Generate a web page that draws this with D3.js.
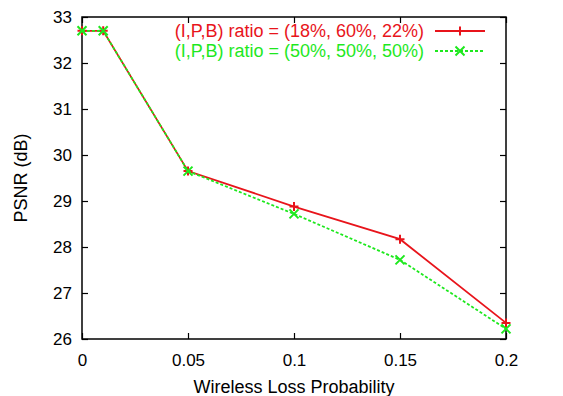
<!DOCTYPE html>
<html>
<head>
<meta charset="utf-8">
<script src="https://cdn.jsdelivr.net/npm/d3@7"></script>
<style>
  body { margin: 0; background: #fff; }
  text { font-family: "Liberation Sans", Arial, sans-serif; }
</style>
</head>
<body>
<svg width="563" height="396"></svg>
<script>
// data
let lossProb = [0, 0.01, 0.05, 0.1, 0.15, 0.2];
let psnrA = [32.70, 32.70, 29.65, 28.88, 28.17, 26.35];   // (18%, 60%, 22%)
let psnrB = [32.70, 32.70, 29.65, 28.72, 27.72, 26.22];   // (50%, 50%, 50%)
let xTicks = [0, 0.05, 0.1, 0.15, 0.2];
let yTicks = [26, 27, 28, 29, 30, 31, 32, 33];
let seriesNames = ["(I,P,B) ratio = (18%, 60%, 22%)", "(I,P,B) ratio = (50%, 50%, 50%)"];

let svg = d3.select("svg"),
    width = +svg.attr("width"),
    height = +svg.attr("height");

let margin = {left: 82, right: 57, top: 17, bottom: 57};

let x = d3.scaleLinear().domain([0, 0.2]).range([margin.left, width - margin.right]);
let y = d3.scaleLinear().domain([26, 33]).range([height - margin.bottom, margin.top]);

let series = [
    {name: seriesNames[0], values: psnrA, color: "#e8141b", dash: null, marker: "plus"},
    {name: seriesNames[1], values: psnrB, color: "#1ee81e", dash: "3,2", marker: "cross"}
];

let tickLen = 6;

// ticks on all four sides, pointing in
let axB = svg.append("g").attr("transform", `translate(0,${y(26)})`)
    .call(d3.axisBottom(x).tickValues(xTicks).tickSize(-tickLen).tickPadding(15).tickFormat(d3.format("")));
let axT = svg.append("g").attr("transform", `translate(0,${y(33)})`)
    .call(d3.axisTop(x).tickValues(xTicks).tickSize(-tickLen).tickFormat(""));
let axL = svg.append("g").attr("transform", `translate(${x(0)},0)`)
    .call(d3.axisLeft(y).tickValues(yTicks).tickSize(-tickLen).tickPadding(10).tickFormat(d3.format("d")));
let axR = svg.append("g").attr("transform", `translate(${x(0.2)},0)`)
    .call(d3.axisRight(y).tickValues(yTicks).tickSize(-tickLen).tickFormat(""));

[axB, axT, axL, axR].forEach(a => {
    a.select(".domain").remove();
    a.selectAll(".tick line").attr("stroke", "#000").attr("stroke-width", 1.2);
    a.selectAll("text").attr("fill", "#000").style("font-size", "17px");
});

// frame
svg.append("rect")
    .attr("x", x(0)).attr("y", y(33))
    .attr("width", x(0.2) - x(0)).attr("height", y(26) - y(33))
    .attr("fill", "none").attr("stroke", "#000").attr("stroke-width", 1.5);

// axis titles
svg.append("text")
    .attr("x", (x(0) + x(0.2)) / 2).attr("y", 393)
    .attr("text-anchor", "middle").style("font-size", "18px")
    .text("Wireless Loss Probability");

svg.append("text")
    .attr("transform", `translate(27,${(y(26) + y(33)) / 2}) rotate(-90)`)
    .attr("text-anchor", "middle").style("font-size", "18px")
    .text("PSNR (dB)");

function drawMarker(g, cx, cy, type, color) {
    let s = 4.5;
    if (type === "plus") {
        g.append("path").attr("d", `M${cx - s},${cy}L${cx + s},${cy}M${cx},${cy - s}L${cx},${cy + s}`)
            .attr("stroke", color).attr("stroke-width", 2);
    } else {
        g.append("path").attr("d", `M${cx - s},${cy - s}L${cx + s},${cy + s}M${cx - s},${cy + s}L${cx + s},${cy - s}`)
            .attr("stroke", color).attr("stroke-width", 2);
    }
}

let line = d3.line().x((d, i) => x(lossProb[i])).y(d => y(d));

series.forEach(s => {
    let g = svg.append("g");
    g.append("path")
        .attr("d", line(s.values))
        .attr("fill", "none")
        .attr("stroke", s.color)
        .attr("stroke-width", 1.8)
        .attr("stroke-dasharray", s.dash);
    s.values.forEach((v, i) => drawMarker(g, x(lossProb[i]), y(v), s.marker, s.color));
});

// legend
let legend = svg.append("g");
series.forEach((s, i) => {
    let ly = 31 + i * 20;
    legend.append("text")
        .attr("x", 424).attr("y", ly + 6)
        .attr("text-anchor", "end")
        .attr("fill", s.color)
        .style("font-size", "18px")
        .text(s.name);
    legend.append("line")
        .attr("x1", 435).attr("x2", 485)
        .attr("y1", ly).attr("y2", ly)
        .attr("stroke", s.color).attr("stroke-width", 1.8)
        .attr("stroke-dasharray", s.dash);
    drawMarker(legend, 460, ly, s.marker, s.color);
});
</script>
</body>
</html>
